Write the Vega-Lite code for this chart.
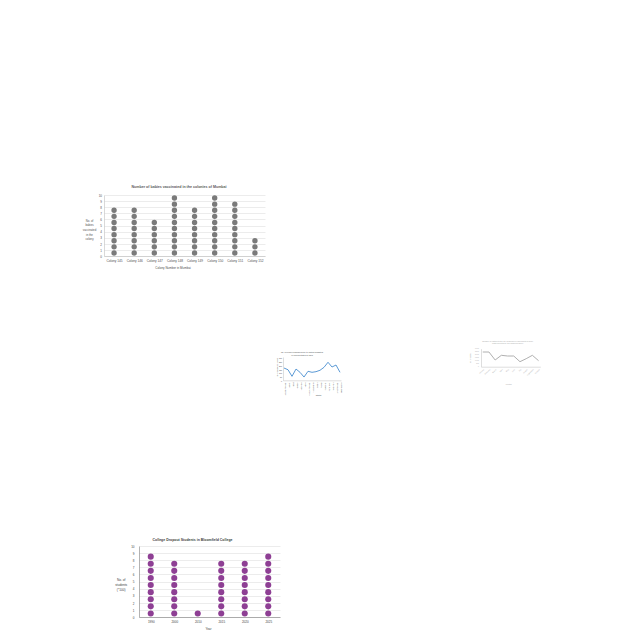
{
  "$schema": "https://vega.github.io/schema/vega-lite/v6.json",
  "padding": 0,
  "spacing": 0,
  "config": {
    "view": {"stroke": null},
    "font": "Liberation Sans",
    "axis": {"ticks": false, "tickSize": 0, "labelFlush": false, "labelOverlap": false, "labelBound": false, "titleFontWeight": "normal"},
    "title": {"frame": "group", "anchor": "middle"}
  },
  "vconcat": [
    {"width": 10, "height": 183.5, "data": {"values": []}, "mark": "text", "encoding": {}},
    {
      "bounds": "flush",
      "spacing": 0,
      "hconcat": [
        {"width": 104, "height": 144.2, "data": {"values": []}, "mark": "text", "encoding": {}},
        {
          "width": 161,
          "height": 61,
          "title": {"text": "Number of babies vaccinated in the colonies of Mumbai", "fontSize": 3.6, "fontWeight": "bold", "color": "#595959", "offset": 5.5, "dx": -5.5},
          "data": {"values": [
            {"colony": "Colony 145", "dot": 1}, {"colony": "Colony 145", "dot": 2}, {"colony": "Colony 145", "dot": 3}, {"colony": "Colony 145", "dot": 4}, {"colony": "Colony 145", "dot": 5}, {"colony": "Colony 145", "dot": 6}, {"colony": "Colony 145", "dot": 7}, {"colony": "Colony 145", "dot": 8},
            {"colony": "Colony 146", "dot": 1}, {"colony": "Colony 146", "dot": 2}, {"colony": "Colony 146", "dot": 3}, {"colony": "Colony 146", "dot": 4}, {"colony": "Colony 146", "dot": 5}, {"colony": "Colony 146", "dot": 6}, {"colony": "Colony 146", "dot": 7}, {"colony": "Colony 146", "dot": 8},
            {"colony": "Colony 147", "dot": 1}, {"colony": "Colony 147", "dot": 2}, {"colony": "Colony 147", "dot": 3}, {"colony": "Colony 147", "dot": 4}, {"colony": "Colony 147", "dot": 5}, {"colony": "Colony 147", "dot": 6},
            {"colony": "Colony 148", "dot": 1}, {"colony": "Colony 148", "dot": 2}, {"colony": "Colony 148", "dot": 3}, {"colony": "Colony 148", "dot": 4}, {"colony": "Colony 148", "dot": 5}, {"colony": "Colony 148", "dot": 6}, {"colony": "Colony 148", "dot": 7}, {"colony": "Colony 148", "dot": 8}, {"colony": "Colony 148", "dot": 9}, {"colony": "Colony 148", "dot": 10},
            {"colony": "Colony 149", "dot": 1}, {"colony": "Colony 149", "dot": 2}, {"colony": "Colony 149", "dot": 3}, {"colony": "Colony 149", "dot": 4}, {"colony": "Colony 149", "dot": 5}, {"colony": "Colony 149", "dot": 6}, {"colony": "Colony 149", "dot": 7}, {"colony": "Colony 149", "dot": 8},
            {"colony": "Colony 150", "dot": 1}, {"colony": "Colony 150", "dot": 2}, {"colony": "Colony 150", "dot": 3}, {"colony": "Colony 150", "dot": 4}, {"colony": "Colony 150", "dot": 5}, {"colony": "Colony 150", "dot": 6}, {"colony": "Colony 150", "dot": 7}, {"colony": "Colony 150", "dot": 8}, {"colony": "Colony 150", "dot": 9}, {"colony": "Colony 150", "dot": 10},
            {"colony": "Colony 151", "dot": 1}, {"colony": "Colony 151", "dot": 2}, {"colony": "Colony 151", "dot": 3}, {"colony": "Colony 151", "dot": 4}, {"colony": "Colony 151", "dot": 5}, {"colony": "Colony 151", "dot": 6}, {"colony": "Colony 151", "dot": 7}, {"colony": "Colony 151", "dot": 8}, {"colony": "Colony 151", "dot": 9},
            {"colony": "Colony 152", "dot": 1}, {"colony": "Colony 152", "dot": 2}, {"colony": "Colony 152", "dot": 3}
          ]},
          "mark": {"type": "circle", "size": 29, "opacity": 1, "color": "#7a7a7a", "yOffset": 3.05},
          "encoding": {
            "x": {"field": "colony", "type": "nominal", "sort": null, "scale": {"paddingInner": 0, "paddingOuter": 0},
              "axis": {"title": "Colony Number in Mumbai", "labelAngle": 0, "labelFontSize": 3.2, "labelColor": "#505050", "labelPadding": 2, "domainColor": "#bfbfbf", "domainWidth": 0.6, "titleFontSize": 3, "titleColor": "#505050", "titleX": 68.5, "titleY": 11.7, "titleBaseline": "middle", "titleAlign": "center"}},
            "y": {"field": "dot", "type": "quantitative", "scale": {"domain": [0, 10]},
              "axis": {"values": [0, 1, 2, 3, 4, 5, 6, 7, 8, 9, 10], "grid": true, "gridColor": "#d9d9d9", "gridWidth": 0.5, "domainColor": "#bfbfbf", "domainWidth": 0.6, "labelFontSize": 3, "labelColor": "#505050", "labelPadding": 2.5,
                "title": ["No. of", "babies", "vaccinated", "in the", "colony"], "titleAngle": 0, "titleAlign": "center", "titleBaseline": "top", "titleX": -15, "titleY": 24.3, "titleFontSize": 2.8, "titleLineHeight": 4.6, "titleColor": "#505050"}}
          }
        }
      ]
    },
    {
      "bounds": "flush",
      "spacing": 0,
      "hconcat": [
        {"width": 283, "height": 180.2, "data": {"values": []}, "mark": "text", "encoding": {}},
        {
          "width": 58,
          "height": 23.3,
          "title": {"text": ["No. of people displaced due to natural disasters", "in various states of India"], "fontSize": 2, "lineHeight": 2.5, "color": "#505050", "fontWeight": "normal", "offset": 1.2, "dx": -10},
          "data": {"values": [
            {"state": "Andhra Pradesh", "people": 158},
            {"state": "Assam", "people": 136},
            {"state": "Bihar", "people": 51},
            {"state": "Gujarat", "people": 145},
            {"state": "Karnataka", "people": 103},
            {"state": "Kerala", "people": 42},
            {"state": "Madhya Pradesh", "people": 116},
            {"state": "Maharashtra", "people": 103},
            {"state": "Odisha", "people": 111},
            {"state": "Punjab", "people": 129},
            {"state": "Rajasthan", "people": 167},
            {"state": "Tamil Nadu", "people": 232},
            {"state": "Telangana", "people": 171},
            {"state": "Uttar Pradesh", "people": 197},
            {"state": "West Bengal", "people": 103}
          ]},
          "mark": {"type": "line", "color": "#4a8fd0", "strokeWidth": 0.9},
          "encoding": {
            "x": {"field": "state", "type": "ordinal", "sort": null, "scale": {"type": "point", "padding": 0.25},
              "axis": {"labelAngle": -90, "labelFontSize": 1.8, "labelColor": "#404040", "labelPadding": 1.5, "title": "States", "titleFontSize": 2, "titleColor": "#505050", "titleX": 35, "titleY": 13.7, "titleBaseline": "middle", "titleAlign": "center", "domainColor": "#bfbfbf", "domainWidth": 0.5}},
            "y": {"field": "people", "type": "quantitative", "scale": {"domain": [0, 300]},
              "axis": {"values": [0, 50, 100, 150, 200, 250, 300], "grid": false, "labelFontSize": 1.8, "labelColor": "#404040", "labelPadding": 1.5, "domainColor": "#bfbfbf", "domainWidth": 0.5,
                "title": "No. of people (in 1000s)", "titleFontSize": 1.8, "titleColor": "#505050", "titleX": -7, "titleY": 10, "titleAlign": "center", "titleBaseline": "middle"}}
          }
        },
        {"width": 139.7, "height": 1, "data": {"values": []}, "mark": "text", "encoding": {}},
        {
          "width": 59.3,
          "height": 9.7,
          "title": {"text": ["Number of visitors to the city museum in each month of 2019", "(data collected by the museum office)"], "fontSize": 1.9, "lineHeight": 2.4, "color": "#a8a8a8", "fontWeight": "normal", "offset": 3.3, "dx": -3},
          "data": {"values": [
            {"month": "January", "visitors": 2450},
            {"month": "February", "visitors": 2450},
            {"month": "March", "visitors": 1117},
            {"month": "April", "visitors": 1900},
            {"month": "May", "visitors": 1783},
            {"month": "June", "visitors": 1783},
            {"month": "July", "visitors": 833},
            {"month": "August", "visitors": 1333},
            {"month": "September", "visitors": 1900},
            {"month": "October", "visitors": 1000}
          ]},
          "mark": {"type": "line", "color": "#b0b0b0", "strokeWidth": 1},
          "encoding": {
            "x": {"field": "month", "type": "ordinal", "sort": null, "scale": {"type": "point", "padding": 0.28},
              "axis": {"labelAngle": -45, "labelFontSize": 1.8, "labelColor": "#adadad", "labelPadding": 1.5, "title": "Months", "titleFontSize": 1.8, "titleColor": "#adadad", "titleX": 27.3, "titleY": 16.6, "titleBaseline": "middle", "titleAlign": "center", "domainColor": "#c8c8c8", "domainWidth": 0.6}},
            "y": {"field": "visitors", "type": "quantitative", "scale": {"domain": [0, 3000], "range": [9.7, -8.3]},
              "axis": {"values": [0, 500, 1000, 1500, 2000, 2500, 3000], "grid": false, "labelFontSize": 1.6, "labelColor": "#adadad", "labelPadding": 2.5, "domainColor": "#c8c8c8", "domainWidth": 0.6,
                "title": "No. of visitors", "titleFontSize": 1.6, "titleColor": "#adadad", "titleX": -10, "titleY": 0.7, "titleAlign": "center", "titleBaseline": "middle"}}
          }
        }
      ]
    },
    {
      "bounds": "flush",
      "spacing": 0,
      "hconcat": [
        {"width": 139, "height": 76, "data": {"values": []}, "mark": "text", "encoding": {}},
        {
          "width": 141,
          "height": 71,
          "title": {"text": "College Dropout Students in Bloomfield College", "fontSize": 3.5, "fontWeight": "bold", "color": "#404040", "offset": 3.1, "dx": -17},
          "data": {"values": [
            {"year": "1990", "dot": 1}, {"year": "1990", "dot": 2}, {"year": "1990", "dot": 3}, {"year": "1990", "dot": 4}, {"year": "1990", "dot": 5}, {"year": "1990", "dot": 6}, {"year": "1990", "dot": 7}, {"year": "1990", "dot": 8}, {"year": "1990", "dot": 9},
            {"year": "2000", "dot": 1}, {"year": "2000", "dot": 2}, {"year": "2000", "dot": 3}, {"year": "2000", "dot": 4}, {"year": "2000", "dot": 5}, {"year": "2000", "dot": 6}, {"year": "2000", "dot": 7}, {"year": "2000", "dot": 8},
            {"year": "2010", "dot": 1},
            {"year": "2015", "dot": 1}, {"year": "2015", "dot": 2}, {"year": "2015", "dot": 3}, {"year": "2015", "dot": 4}, {"year": "2015", "dot": 5}, {"year": "2015", "dot": 6}, {"year": "2015", "dot": 7}, {"year": "2015", "dot": 8},
            {"year": "2020", "dot": 1}, {"year": "2020", "dot": 2}, {"year": "2020", "dot": 3}, {"year": "2020", "dot": 4}, {"year": "2020", "dot": 5}, {"year": "2020", "dot": 6}, {"year": "2020", "dot": 7}, {"year": "2020", "dot": 8},
            {"year": "2025", "dot": 1}, {"year": "2025", "dot": 2}, {"year": "2025", "dot": 3}, {"year": "2025", "dot": 4}, {"year": "2025", "dot": 5}, {"year": "2025", "dot": 6}, {"year": "2025", "dot": 7}, {"year": "2025", "dot": 8}, {"year": "2025", "dot": 9}
          ]},
          "mark": {"type": "circle", "size": 37, "opacity": 1, "color": "#8e3f94", "yOffset": 3.55},
          "encoding": {
            "x": {"field": "year", "type": "nominal", "sort": null, "scale": {"paddingInner": 0, "paddingOuter": 0},
              "axis": {"title": "Year", "labelAngle": 0, "labelFontSize": 3, "labelColor": "#404040", "labelPadding": 3.5, "domainColor": "#7f7f7f", "domainWidth": 0.6, "titleFontSize": 3, "titleColor": "#404040", "titleX": 69, "titleY": 11, "titleBaseline": "middle", "titleAlign": "center"}},
            "y": {"field": "dot", "type": "quantitative", "scale": {"domain": [0, 10]},
              "axis": {"values": [0, 1, 2, 3, 4, 5, 6, 7, 8, 9, 10], "grid": true, "gridColor": "#d9d9d9", "gridWidth": 0.5, "domainColor": "#7f7f7f", "domainWidth": 0.6, "labelFontSize": 3, "labelColor": "#404040", "labelPadding": 5,
                "title": ["No. of", "students", "(*100)"], "titleAngle": 0, "titleAlign": "center", "titleBaseline": "top", "titleX": -18.3, "titleY": 31.5, "titleFontSize": 3.2, "titleLineHeight": 5.2, "titleColor": "#404040"}}
          }
        }
      ]
    }
  ]
}
